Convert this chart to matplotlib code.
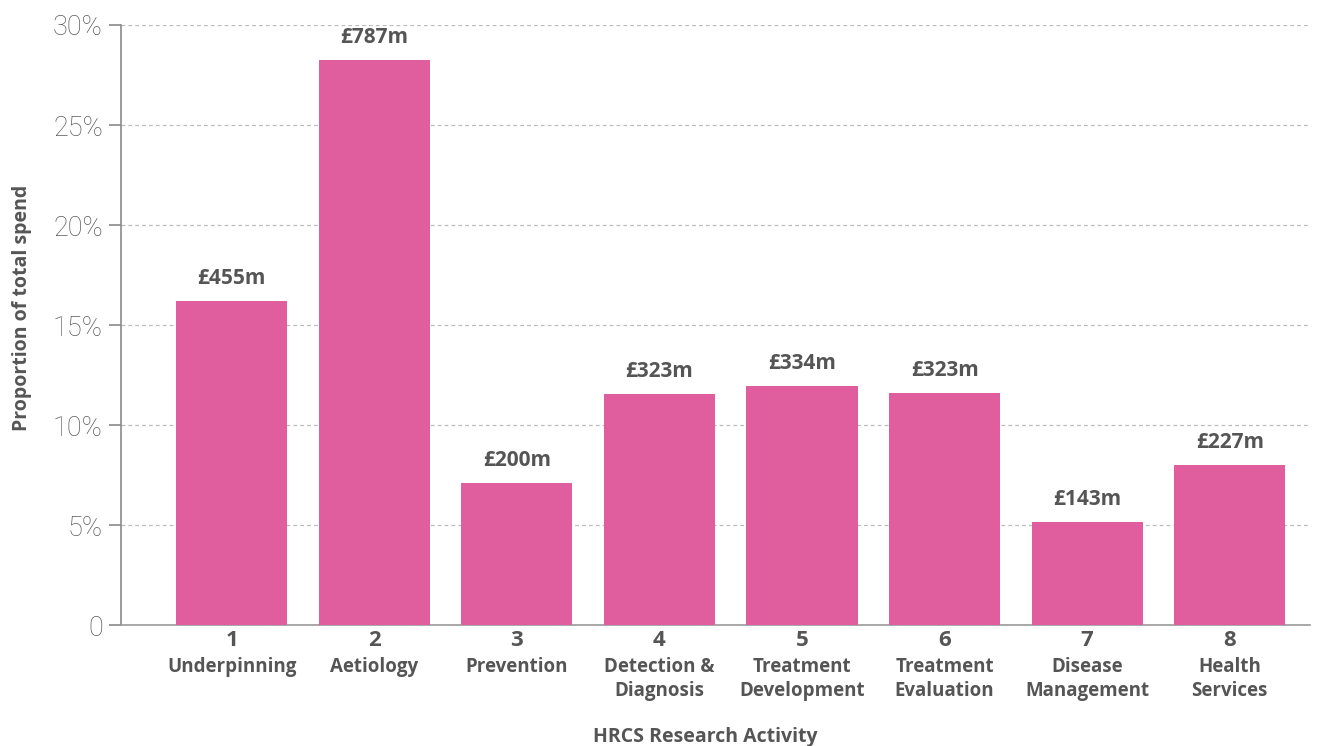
import numpy as np
import matplotlib
matplotlib.use("Agg")
from matplotlib import pyplot as plt
from matplotlib.transforms import blended_transform_factory

# values
codes = ["1", "2", "3", "4", "5", "6", "7", "8"]
names = ["Underpinning", "Aetiology", "Prevention", "Detection &\nDiagnosis",
         "Treatment\nDevelopment", "Treatment\nEvaluation", "Disease\nManagement",
         "Health\nServices"]
share = [16.2, 28.25, 7.1, 11.55, 11.95, 11.6, 5.15, 8.0]
spend = ["£455m", "£787m", "£200m", "£323m", "£334m", "£323m", "£143m", "£227m"]
yticks = [0, 5, 10, 15, 20, 25, 30]
ytick_labels = ["0", "5%", "10%", "15%", "20%", "25%", "30%"]

pink = "#E05E9E"
dark = "#555555"
axis_grey = "#8a8a8a"
bold_font = ["Open Sans", "DejaVu Sans"]

plt.rcParams["font.family"] = ["Roboto", "DejaVu Sans"]

fig = plt.figure(figsize=(13.28, 7.46), dpi=100)
ax = fig.add_axes([0.0911, 0.162, 0.895, 0.8045])

x = np.arange(len(codes))
bars = ax.bar(x, share, width=0.78, color=pink, zorder=3)

ax.set_xlim(-0.776, len(codes) - 1 + 0.56)
ax.set_ylim(0, 30)

ax.set_yticks(yticks)
ax.set_yticklabels(ytick_labels, fontsize=19.5, color="#5a5a5a", fontweight="light")
ax.tick_params(axis="y", length=9, width=1.2, color=axis_grey, pad=4)
ax.set_xticks([])

ax.grid(axis="y", linestyle=(0, (3, 2.5)), color="#bbbbbb", linewidth=0.9, zorder=0)
ax.get_ygridlines()[0].set_visible(False)

for side in ["top", "right"]:
    ax.spines[side].set_visible(False)
ax.spines["left"].set_color(axis_grey)
ax.spines["left"].set_linewidth(1.2)
ax.spines["bottom"].set_color("#9a9a9a")
ax.spines["bottom"].set_linewidth(1.2)

# spend labels above bars
for xi, v, lab in zip(x, share, spend):
    ax.annotate(lab, (xi, v), xytext=(0, 9), textcoords="offset points",
                ha="center", va="bottom", fontsize=15, fontweight="bold",
                color=dark, family=bold_font)

# category labels under the axis
tr = blended_transform_factory(ax.transData, fig.transFigure)
for xi, c, n in zip(x, codes, names):
    ax.text(xi, 1 - 641 / 746, c, transform=tr, ha="center", va="center",
            fontsize=16, fontweight="bold", color=dark, family=bold_font)
    ax.text(xi, 1 - 657 / 746, n, transform=tr, ha="center", va="top",
            fontsize=13.5, fontweight="bold", color=dark, linespacing=1.25,
            family=bold_font)

fig.text(0.5 * (121 + 1290) / 1328, 1 - 737 / 746, "HRCS Research Activity",
         ha="center", va="center", fontsize=14, fontweight="bold", color=dark,
         family=bold_font)
fig.text(22 / 1328, 1 - 308 / 746, "Proportion of total spend", rotation=90,
         ha="center", va="center", fontsize=14, fontweight="bold", color=dark,
         family=bold_font)

fig.savefig("out.png", dpi=100)
